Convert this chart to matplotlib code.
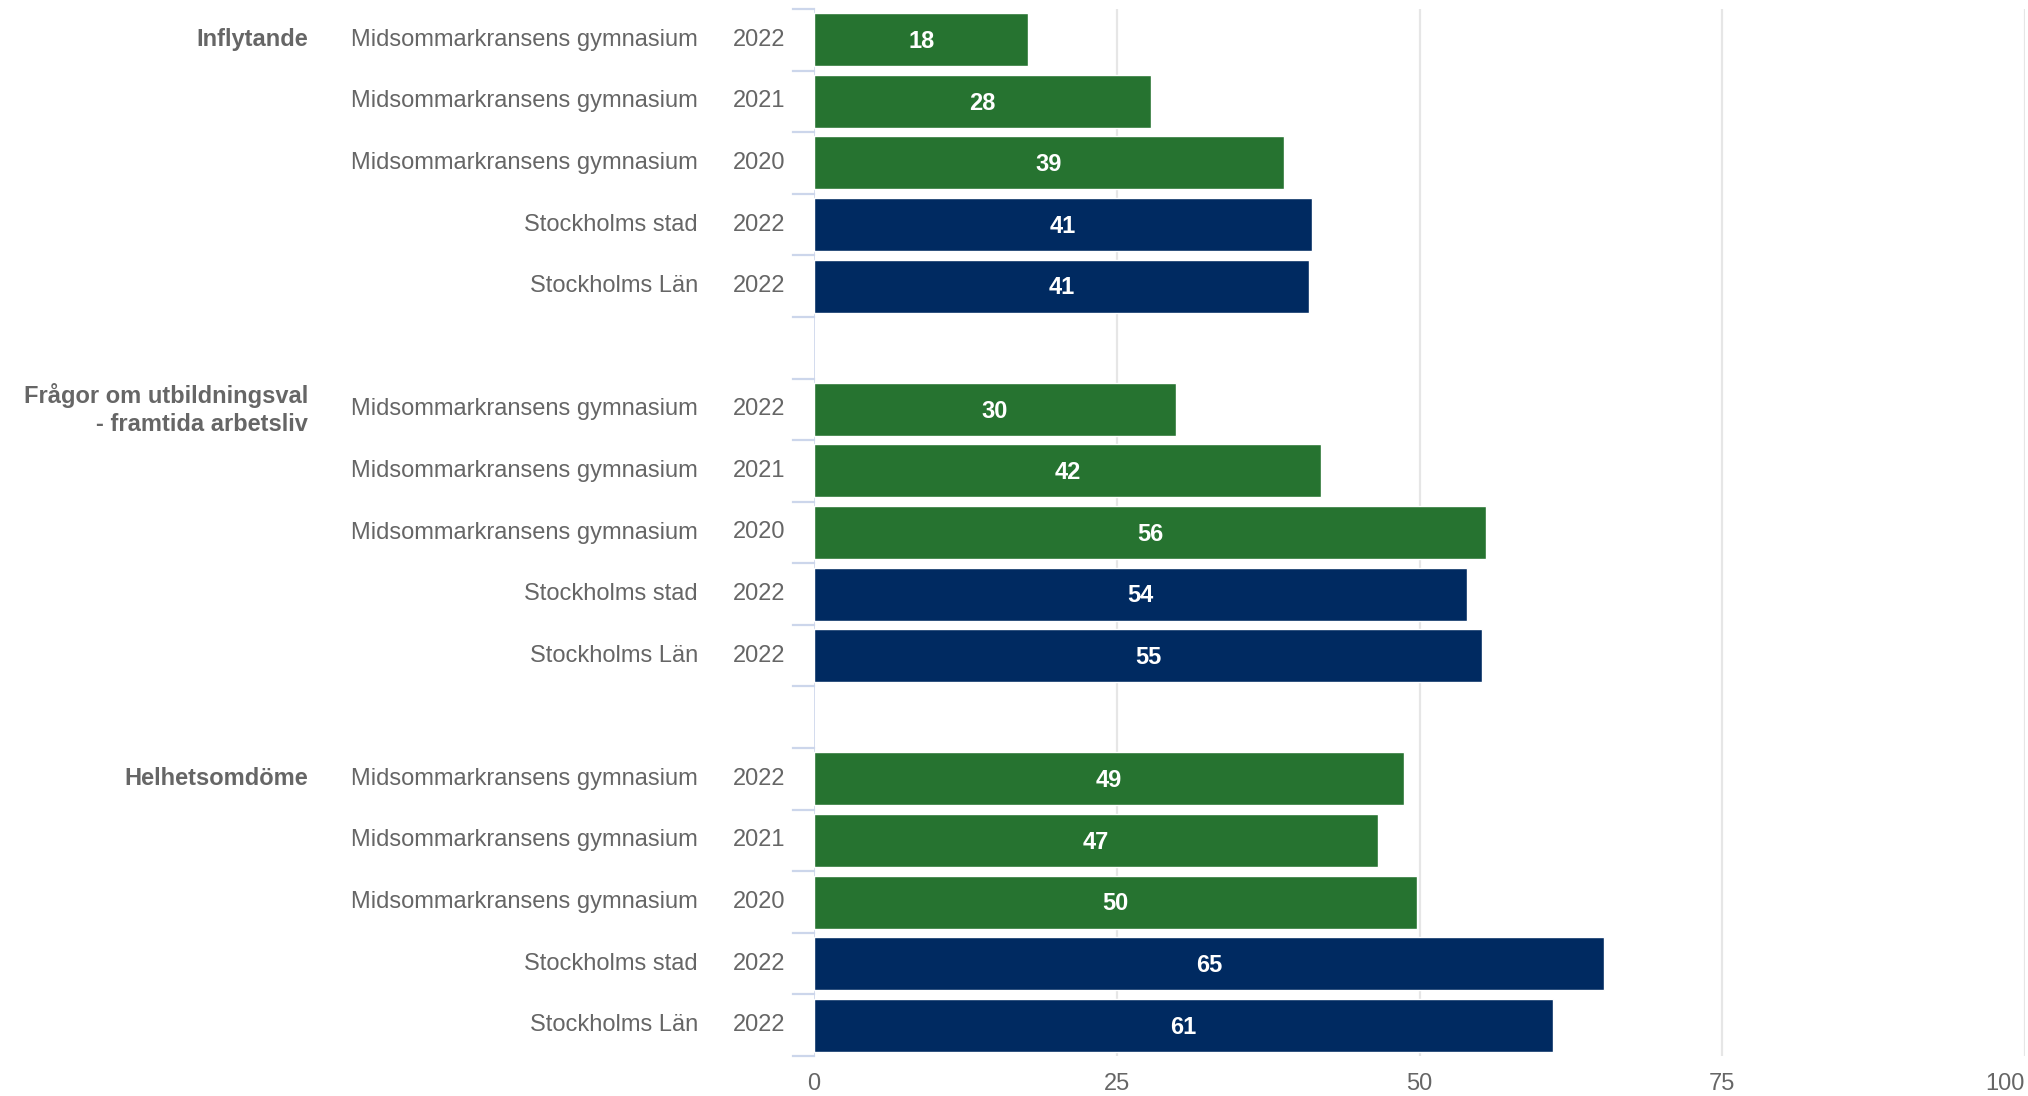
import numpy as np
import matplotlib
matplotlib.use("Agg")
import matplotlib.pyplot as plt
from matplotlib.transforms import blended_transform_factory

plt.rcParams['font.family'] = ['Liberation Sans', 'DejaVu Sans']

groups = ["Inflytande", "Frågor om utbildningsval\n- framtida arbetsliv", "Helhetsomdöme"]
names = ["Midsommarkransens gymnasium", "Midsommarkransens gymnasium",
         "Midsommarkransens gymnasium", "Stockholms stad", "Stockholms Län"]
years = ["2022", "2021", "2020", "2022", "2022"]
values = [
    [17.7, 27.8, 38.8, 41.1, 40.9],
    [29.9, 41.9, 55.5, 53.9, 55.2],
    [48.7, 46.6, 49.8, 65.2, 61.0],
]
school_color = "#267330"
region_color = "#002a61"
bar_colors = [school_color, school_color, school_color, region_color, region_color]
xticks = [0, 25, 50, 75, 100]

W, H = 2028, 1096
fig = plt.figure(figsize=(W / 100, H / 100), dpi=100)
ax = fig.add_axes([814 / W, 40 / H, (2025 - 814) / W, (1056 - 9) / H])
lab = blended_transform_factory(fig.transFigure, ax.transData)

n_slots = len(groups) * 6 - 1
grey = "#666666"
fs = 17

for g, grp in enumerate(groups):
    for i in range(len(names)):
        y = g * 6 + i
        v = values[g][i]
        ax.barh(y, v, height=0.86, color=bar_colors[i], edgecolor="white",
                linewidth=1, zorder=3)
        ax.text(v / 2, y + 0.03, str(int(round(v))), color="white", fontsize=fs,
                fontweight="bold", ha="center", va="center", zorder=4)
        ax.text(785 / W, y, years[i], transform=lab,
                fontsize=fs, color=grey, ha="right", va="center")
        ax.text(698 / W, y, names[i], transform=lab,
                fontsize=fs, color=grey, ha="right", va="center")
    ax.text(308 / W, g * 6, grp, transform=lab,
            fontsize=fs, color=grey, fontweight="bold", ha="right",
            va="center", linespacing=1.25)

ax.set_xlim(0, 100)
ax.set_ylim(n_slots - 0.5, -0.5)

for x in xticks[1:]:
    ax.axvline(x, color="#e6e6e6", linewidth=1.6, zorder=1)
ax.axvline(0, color="#ccd6eb", linewidth=1.2, zorder=2)

# category boundary ticks
for b in np.arange(-0.5, n_slots, 1.0):
    ax.plot([-21 / 12.11, 0], [b, b], color="#ccd6eb", linewidth=1.6,
            clip_on=False, zorder=2)

ax.set_xticks(xticks)
ax.set_xticklabels([str(x) for x in xticks], fontsize=fs, color=grey)
ax.get_xticklabels()[-1].set_ha("right")
ax.tick_params(axis="x", length=0, pad=12)
ax.set_yticks([])
for s in ax.spines.values():
    s.set_visible(False)

fig.savefig("out.png", dpi=100)
